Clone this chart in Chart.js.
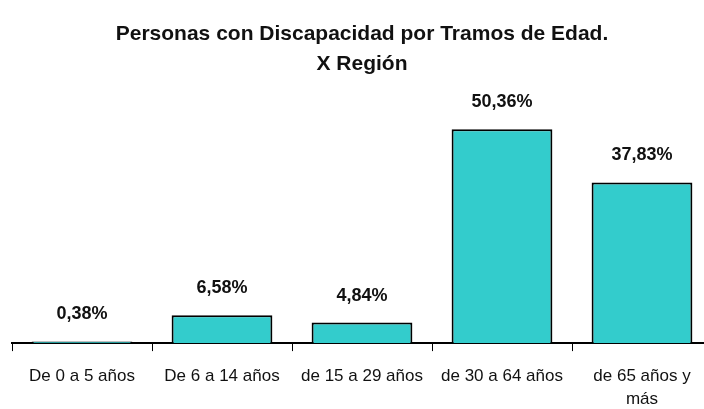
<!DOCTYPE html>
<html>
<head>
<meta charset="utf-8">
<script src="https://cdn.jsdelivr.net/npm/chart.js@4/dist/chart.umd.min.js"></script>
<style>
  html, body { margin: 0; padding: 0; background: #fff; overflow: hidden; }
  #wrap { width: 712px; height: 409px; }
</style>
</head>
<body>
<div id="wrap"><canvas id="chart"></canvas></div>
<script>
var categories = ['De 0 a 5 años', 'De 6 a 14 años', 'de 15 a 29 años', 'de 30 a 64 años', ['de 65 años y', 'más']]
var percentages = [0.38, 6.58, 4.84, 50.36, 37.83]

var fontName = '"Liberation Sans", Arial, sans-serif'

// draws the value above each bar
var valueLabels = {
  id: 'valueLabels',
  afterDatasetsDraw: function (chart) {
    var ctx = chart.ctx
    var meta = chart.getDatasetMeta(0)
    ctx.save()
    ctx.font = 'bold 18px ' + fontName
    ctx.fillStyle = '#111'
    ctx.textAlign = 'center'
    ctx.textBaseline = 'bottom'
    meta.data.forEach(function (bar, i) {
      var txt = percentages[i].toFixed(2).replace('.', ',') + '%'
      ctx.fillText(txt, bar.x, bar.y - 18)
    })
    ctx.restore()
  }
}

new Chart(document.getElementById('chart'), {
  type: 'bar',
  data: {
    labels: categories,
    datasets: [
      {
        data: percentages,
        backgroundColor: '#33CCCC',
        borderColor: '#000',
        borderWidth: 2,
        borderSkipped: 'bottom',
        barPercentage: 0.72,
        categoryPercentage: 1
      }
    ]
  },
  options: {
    responsive: true,
    maintainAspectRatio: false,
    animation: false,
    layout: { padding: { left: 12, right: 0, top: 0, bottom: -16 } },
    plugins: {
      legend: { display: false },
      tooltip: { enabled: false },
      title: {
        display: true,
        text: ['Personas con Discapacidad por Tramos de Edad.', 'X Región'],
        color: '#111',
        font: { family: fontName, size: 21, weight: 'bold', lineHeight: 1.4 },
        padding: { top: 20, bottom: 12 }
      }
    },
    scales: {
      x: {
        border: { display: true, color: '#000', width: 2 },
        grid: { offset: true, drawOnChartArea: false, drawTicks: true, tickLength: 8, color: '#000' },
        ticks: { color: '#111', padding: 14, maxRotation: 0, font: { family: fontName, size: 17, lineHeight: 1.35 } }
      },
      y: {
        display: false,
        min: 0,
        max: 59.4
      }
    }
  },
  plugins: [valueLabels]
})
</script>
</body>
</html>
